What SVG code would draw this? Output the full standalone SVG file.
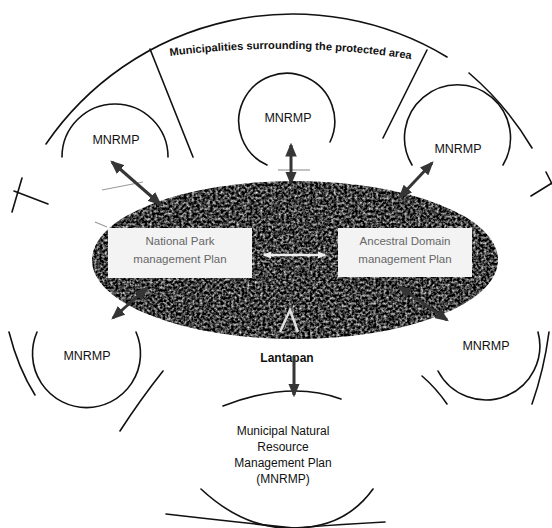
<svg xmlns="http://www.w3.org/2000/svg" width="552" height="528" viewBox="0 0 552 528">
  <style>
    .line { fill: none; stroke: #111; stroke-width: 1.6; stroke-linecap: round; }
    .faint { fill: none; stroke: #9a9a9a; stroke-width: 1.2; }
    .link { fill: none; stroke: #353535; stroke-width: 3; }
    .lbl { font-family: "Liberation Sans", Arial, sans-serif; font-size: 12.5px; fill: #111; text-anchor: middle; }
    .body { font-family: "Liberation Sans", Arial, sans-serif; font-size: 12px; fill: #111; text-anchor: middle; }
    .plan { font-family: "Liberation Sans", Arial, sans-serif; font-size: 11.5px; fill: #666; text-anchor: middle; }
    .bold { font-family: "Liberation Sans", Arial, sans-serif; font-weight: bold; fill: #111; }
  </style>
  <defs>
    <marker id="head" viewBox="0 0 12 10" refX="10" refY="5" markerWidth="4.6" markerHeight="3.9" orient="auto-start-reverse" markerUnits="strokeWidth">
      <path d="M0,0 L12,5 L0,10 Z" fill="#353535"/>
    </marker>
    <marker id="headWhite" viewBox="0 0 12 10" refX="10" refY="5" markerWidth="3.5" markerHeight="3.5" orient="auto-start-reverse" markerUnits="strokeWidth">
      <path d="M0,0 L12,5 L0,10 Z" fill="#eeeeee"/>
    </marker>
    <!-- speckled dark fill for the protected area -->
    <filter id="grain" x="-5%" y="-5%" width="110%" height="110%" color-interpolation-filters="sRGB">
      <feTurbulence type="fractalNoise" baseFrequency="0.38" numOctaves="2" seed="11" result="noise"/>
      <feColorMatrix in="noise" type="matrix" values="1.7 0 0 0 -0.6  1.7 0 0 0 -0.6  1.7 0 0 0 -0.6  0 0 0 0 1" result="speck"/>
      <feComposite in="speck" in2="SourceGraphic" operator="in"/>
    </filter>
    <path id="titleArc" d="M170,56 Q292,40 416,60"/>
  </defs>

  <rect width="552" height="528" fill="#ffffff"/>

  <!-- outer ring of surrounding municipalities, split into sectors -->
  <g id="ring">
    <path class="line" d="M46,144 A299,299 0 0 1 447,57"/>
    <path class="line" d="M469,73 A299,299 0 0 1 532,148"/>
    <line class="line" x1="150" y1="49" x2="193" y2="157"/>
    <line class="line" x1="427" y1="50" x2="383" y2="138"/>
    <line class="line" x1="22" y1="178" x2="12" y2="212"/>
    <line class="line" x1="14" y1="191" x2="48" y2="204"/>
    <line class="line" x1="546" y1="172" x2="552" y2="184"/>
    <line class="line" x1="531" y1="196" x2="552" y2="183"/>
    <path class="line" d="M9,332 Q18,368 35,395"/>
    <path class="line" d="M163,371 Q140,400 120,431"/>
    <path class="line" d="M422,376 Q436,388 447,404"/>
    <path class="line" d="M549,332 Q544,370 532,404"/>
    <path class="line" d="M166,514 Q235,522 294,528 Q345,524 385,522"/>
    <text class="bold" font-size="11">
      <textPath href="#titleArc" textLength="242" lengthAdjust="spacingAndGlyphs">Municipalities surrounding the protected area</textPath>
    </text>
  </g>

  <!-- protected area core -->
  <g id="core">
    <ellipse cx="295" cy="260" rx="203" ry="79" fill="#000" filter="url(#grain)"/>
    <path d="M280,332 L290,310 L298,332" fill="none" stroke="#e0e0e0" stroke-width="2.5"/>
  </g>

  <g id="np-plan">
    <rect x="108" y="228" width="144" height="50" fill="#f3f3f3"/>
    <text class="plan" x="180" y="245">National Park</text>
    <text class="plan" x="180" y="263">management Plan</text>
  </g>

  <g id="ad-plan">
    <rect x="338" y="228" width="134" height="49" fill="#f3f3f3"/>
    <text class="plan" x="405" y="245">Ancestral Domain</text>
    <text class="plan" x="405" y="263">management Plan</text>
  </g>

  <g id="mnrmp-top-left">
    <path class="line" d="M62,157 A53,53 0 1 1 168,157"/>
    <text class="lbl" x="116" y="144">MNRMP</text>
  </g>

  <g id="mnrmp-top-center">
    <path class="line" d="M267,165 A48,48 0 1 1 330,142"/>
    <text class="lbl" x="288" y="122">MNRMP</text>
  </g>

  <g id="mnrmp-top-right">
    <path class="line" d="M412,165 A53,53 0 1 1 503,165"/>
    <text class="lbl" x="458" y="153">MNRMP</text>
  </g>

  <g id="mnrmp-bottom-left">
    <path class="line" d="M136,332 A54,54 0 1 1 37,332"/>
    <text class="lbl" x="87" y="360">MNRMP</text>
  </g>

  <g id="mnrmp-bottom-right">
    <path class="line" d="M538,332 A54,54 0 0 1 438,371"/>
    <text class="lbl" x="486" y="350">MNRMP</text>
  </g>

  <g id="lantapan">
    <text class="bold" font-size="12" text-anchor="middle" x="287" y="362">Lantapan</text>
    <path class="line" d="M223,406 Q290,380 341,399"/>
    <path class="line" d="M201,489 Q245,530 294,528 Q345,528 373,489"/>
    <text class="body" x="283" y="435">Municipal Natural</text>
    <text class="body" x="283" y="451">Resource</text>
    <text class="body" x="283" y="467">Management Plan</text>
    <text class="body" x="283" y="483">(MNRMP)</text>
  </g>

  <!-- links between the plans -->
  <g id="connectors">
    <line class="faint" x1="278" y1="170" x2="310" y2="170"/>
    <line class="faint" x1="102" y1="190" x2="143" y2="182"/>
    <line class="faint" x1="95" y1="222" x2="107" y2="227"/>
    <line class="link" x1="160" y1="204" x2="112" y2="162" marker-start="url(#head)" marker-end="url(#head)"/>
    <line class="link" x1="291" y1="183" x2="291" y2="145" marker-start="url(#head)" marker-end="url(#head)"/>
    <line class="link" x1="400" y1="197" x2="432" y2="163" marker-start="url(#head)" marker-end="url(#head)"/>
    <line class="link" x1="147" y1="288" x2="113" y2="318" marker-start="url(#head)" marker-end="url(#head)"/>
    <line class="link" x1="400" y1="287" x2="447" y2="320" marker-start="url(#head)" marker-end="url(#head)"/>
    <line class="link" x1="294" y1="356" x2="294" y2="395" marker-end="url(#head)"/>
    <line x1="264" y1="255" x2="325" y2="255" stroke="#eeeeee" stroke-width="2.5" marker-start="url(#headWhite)" marker-end="url(#headWhite)"/>
  </g>
</svg>
